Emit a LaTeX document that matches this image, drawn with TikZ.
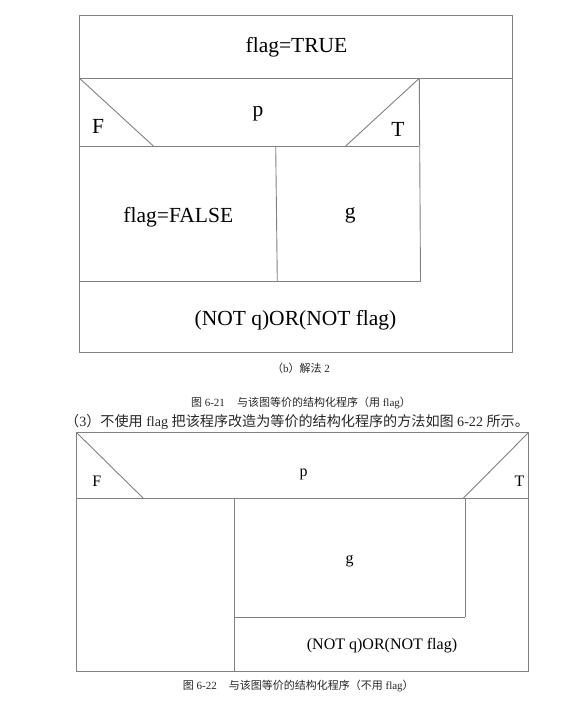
\documentclass[tikz,border=0pt]{standalone}
\usepackage{fontspec}
\setmainfont{Liberation Serif}
\newfontfamily\cjk{Noto Sans CJK SC}
\begin{document}
\begin{tikzpicture}[x=1pt,y=-1pt,
  box/.style={draw=black!50,line width=0.9pt},
  biglbl/.style={inner sep=0pt,font=\fontsize{21.5}{24}\selectfont},
  smalllbl/.style={inner sep=0pt,font=\fontsize{16}{19}\selectfont},
  caplbl/.style={inner sep=0pt,text=black!85,font=\fontsize{11}{13}\selectfont},
  linelbl/.style={inner sep=0pt,text=black!85,font=\fontsize{14.1}{16}\selectfont}]
\useasboundingbox (0,0) rectangle (581,707);
% ---------- figure 6-21 (b) ----------
\coordinate (A1) at (79.5,15.7);
\coordinate (A2) at (512.7,352);
\coordinate (L1) at (79.5,78.3);  \coordinate (R1) at (512.7,78.3);
\coordinate (I1) at (419.3,78.3);
\coordinate (L2) at (79.5,146);   \coordinate (I2) at (419.3,146);
\coordinate (D1) at (153.3,146);  \coordinate (D2) at (345.7,146);
\coordinate (V1) at (275.7,146);  \coordinate (V2) at (277.3,281.7);
\coordinate (L3) at (79.5,281.7); \coordinate (I3) at (420.5,281.7);
\draw[box] (A1) rectangle (A2);
\draw[box] (L1) -- (R1);
\draw[box] (I1) -- (I3);
\draw[box] (L2) -- (I2);
\draw[box] (L1) -- (D1);
\draw[box] (I1) -- (D2);
\draw[box] (V1) -- (V2);
\draw[box] (L3) -- (I3);
\node[biglbl] (t1) at (296.5,47) {flag=TRUE};
\node[biglbl] (p1) at (258,113.3) {p};
\node[biglbl] (f1) at (98,126.3) {F};
\node[biglbl] (tt1) at (398,129) {T};
\node[biglbl] (ff1) at (178.3,217) {flag=FALSE};
\node[biglbl] (g1) at (350.3,215) {g};
\node[biglbl] (n1) at (295.5,320) {(NOT q)OR(NOT flag)};
% ---------- captions ----------
\node[caplbl] (cb) at (301,368) {{\cjk （}b{\cjk ）解法} 2};
\node[caplbl] (c21) at (301,403.3) {{\cjk 图} 6-21\hspace{1.1em}{\cjk 与该图等价的结构化程序（用} flag{\cjk ）}};
\node[linelbl,anchor=west] (c3) at (65,422.3) {{\cjk （}3{\cjk ）不使用} flag {\cjk 把该程序改造为等价的结构化程序的方法如图} 6-22 {\cjk 所示。}};
% ---------- figure 6-22 ----------
\coordinate (B1) at (76.7,432.7);
\coordinate (B2) at (528.3,671);
\coordinate (M1) at (76.7,498.3);  \coordinate (M2) at (528.3,498.3);
\coordinate (B3) at (528.3,432.7);
\coordinate (E1) at (143.3,498.3); \coordinate (E2) at (463.3,498.3);
\coordinate (W1) at (234,498.3);   \coordinate (W2) at (234,671);
\coordinate (K1) at (465,498.3);   \coordinate (K2) at (465,617.3);
\coordinate (H1) at (234,617.3);
\draw[box] (B1) rectangle (B2);
\draw[box] (M1) -- (M2);
\draw[box] (B1) -- (E1);
\draw[box] (B3) -- (E2);
\draw[box] (W1) -- (W2);
\draw[box] (K1) -- (K2);
\draw[box] (H1) -- (K2);
\node[smalllbl] (f2) at (96.7,481) {F};
\node[smalllbl] (p2) at (303.5,474) {p};
\node[smalllbl] (tt2) at (519.5,481) {T};
\node[smalllbl] (g2) at (349.7,561) {g};
\node[smalllbl] (n2) at (382,645.5) {(NOT q)OR(NOT flag)};
\node[caplbl] (c22) at (298.3,685.7) {{\cjk 图} 6-22\hspace{1.1em}{\cjk 与该图等价的结构化程序（不用} flag{\cjk ）}};
\end{tikzpicture}
\end{document}
